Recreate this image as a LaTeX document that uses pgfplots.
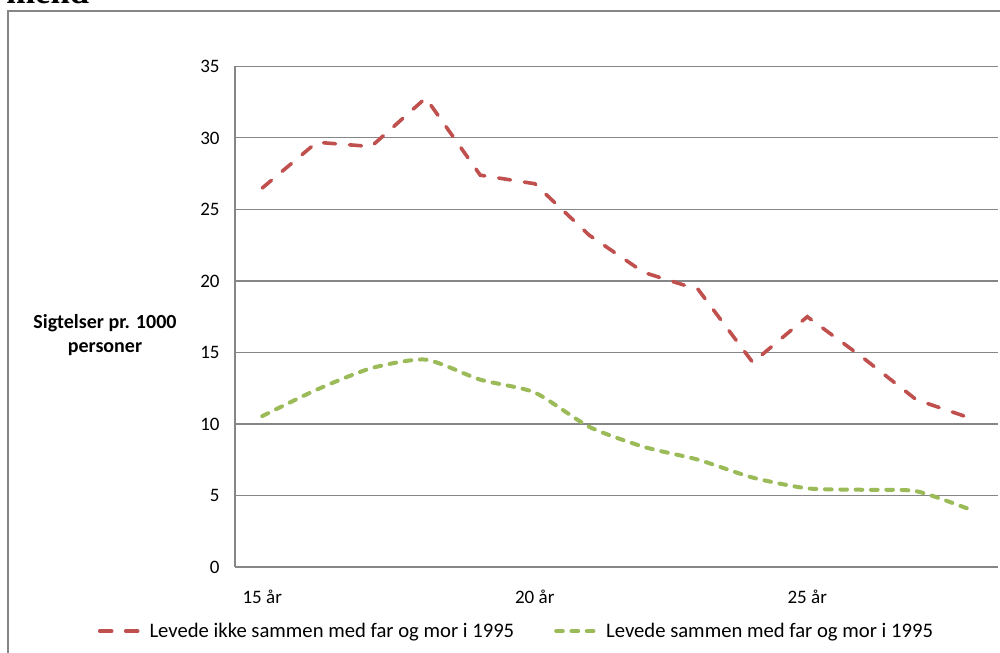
\documentclass[border=0pt]{standalone}
\usepackage{pgfplots}
\pgfplotsset{compat=1.18}
\usepackage{fontspec}
\setmainfont{Carlito}
\newfontfamily\serifb{Liberation Serif}
\definecolor{redS}{HTML}{C0504D}
\definecolor{greenS}{HTML}{9BBB59}
\definecolor{gridc}{HTML}{868686}
\begin{document}
\begin{tikzpicture}[x=0.75pt,y=0.75pt]
\useasboundingbox (0,0) rectangle (1000,653);
\clip (0,0) rectangle (1000,653);
\node[anchor=base west, inner sep=0pt, font=\serifb\bfseries\fontsize{26}{30}\selectfont] at (6,649) {mend};
\draw[gridc, line width=1.6pt] (8,0) -- (8,642) -- (1000,642);
\node[align=center, font=\bfseries\fontsize{15}{18}\selectfont] at (105,318) {Sigtelser pr. 1000\\personer};
\begin{axis}[
  at={(176.25pt,64.5pt)}, anchor=south west,
  scale only axis, width=572.25pt, height=375.4pt,
  xmin=14.5, xmax=28.5, ymin=0, ymax=35,
  xtick={15,20,25}, xticklabels={15 år,20 år,25 år},
  ytick={0,5,...,35},
  axis x line*=bottom, axis y line*=left,
  x axis line style={draw=none},
  y axis line style={draw=gridc, line width=0.8pt},
  ymajorgrids, grid style={draw=gridc, line width=0.8pt},
  tick style={draw=none},
  /pgf/number format/assume math mode=true,
  tick label style={font=\fontsize{14.25}{17}\selectfont},
  xticklabel style={yshift=-14pt},
  yticklabel style={xshift=-8pt},
  legend style={at={(-0.18,-0.128)}, anchor=west, draw=none, fill=none,
    inner sep=0pt, font=\fontsize{15.5}{18.5}\selectfont,
    /tikz/every even column/.append style={column sep=28pt}},
  legend columns=2,
  legend image code/.code={\draw[#1] (0pt,0pt) -- (34pt,0pt);},
  clip=false,
]
\addplot[redS, line width=2.7pt, line cap=round, dash pattern=on 9pt off 10.5pt] coordinates {
(15,26.5) (16,29.7) (17,29.4) (18,32.8) (19,27.4) (20,26.8) (21,23.2) (22,20.6) (23,19.4) (24,14.3) (25,17.5) (26,14.7) (27,11.7) (28,10.4)};
\addlegendentry{Levede ikke sammen med far og mor i 1995}
\addplot[greenS, line width=3pt, line cap=round, dash pattern=on 5pt off 6.5pt, smooth, tension=0.4] coordinates {
(15,10.55) (16,12.4) (17,13.9) (18,14.5) (19,13.1) (20,12.2) (21,9.8) (22,8.4) (23,7.5) (24,6.25) (25,5.5) (26,5.4) (27,5.3) (28,4.0)};
\addlegendentry{Levede sammen med far og mor i 1995}
\end{axis}
\end{tikzpicture}
\end{document}
